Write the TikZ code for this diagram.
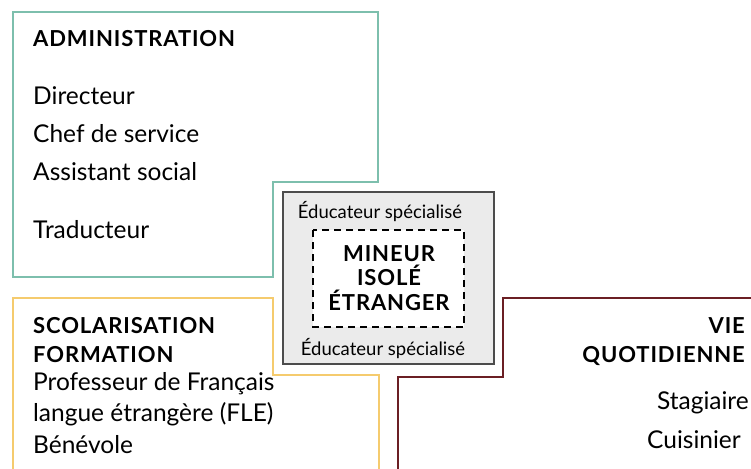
\documentclass[tikz,border=0pt]{standalone}
\usepackage{fontspec}
\setmainfont{Lato}
\usetikzlibrary{calc}

\definecolor{admin}{RGB}{125,191,173}
\definecolor{scol}{RGB}{245,203,110}
\definecolor{vie}{RGB}{107,31,36}
\definecolor{grisfond}{RGB}{235,235,235}

\begin{document}
\begin{tikzpicture}[x=1pt, y=-1pt,
    titre/.style={font=\fontsize{22}{24.5}\selectfont\bfseries\addfontfeature{LetterSpace=4}, inner sep=0pt},
    role/.style={font=\fontsize{24.5}{28}\selectfont, inner sep=0pt},
    educ/.style={font=\fontsize{18.5}{21}\selectfont, inner sep=0pt}]
\useasboundingbox (0,0) rectangle (751,468);

% cadres
\draw[admin, line width=2.8pt]
    (13,12) -- (378,12) -- (378,182) -- (273,182) -- (273,277) -- (13,277) -- cycle;
\draw[scol, line width=2.8pt]
    (13,470) -- (13,298) -- (273,298) -- (273,375) -- (379,375) -- (379,470);
\draw[vie, line width=2.8pt]
    (753,298) -- (503,298) -- (503,377) -- (398,377) -- (398,470);

\draw[fill=grisfond, draw=black!70, line width=1.3pt] (283,192) rectangle (494,364);
\draw[dash pattern=on 7pt off 5pt, line width=1.5pt, fill=white] (313,230) rectangle (464,327);

% administration
\node[titre, anchor=west] (admin) at (33,39) {ADMINISTRATION};
\node[role, anchor=base west] (dir) at (33,105) {Directeur};
\node[role, anchor=base west] (chef) at (33,142) {Chef de service};
\node[role, anchor=base west] (ass) at (33,180) {Assistant social};
\node[role, anchor=base west] (trad) at (33,238) {Traducteur};

% mineur
\node[educ, anchor=base] (educhaut) at (380,218) {Éducateur spécialisé};
\node[titre, align=center] (mie) at (389,278) {MINEUR\\ISOLÉ\\ÉTRANGER};
\node[educ, anchor=base] (educbas) at (383,355) {Éducateur spécialisé};

% scolarisation
\node[titre, anchor=base west] (scol) at (33,333) {SCOLARISATION};
\node[titre, anchor=base west] (form) at (33,362) {FORMATION};
\node[role, anchor=base west] (prof) at (33,390) {Professeur de Français};
\node[role, anchor=base west] (fle) at (33,421) {langue étrangère (FLE)};
\node[role, anchor=base west] (benev) at (33,453) {Bénévole};

% vie quotidienne
\node[titre, anchor=base east] (vq) at (745,333) {VIE};
\node[titre, anchor=base east] (quot) at (745,362) {QUOTIDIENNE};
\node[role, anchor=base east] (stag) at (749,409) {Stagiaire};
\node[role, anchor=base east] (cuis) at (741,448) {Cuisinier};
\end{tikzpicture}
\end{document}
